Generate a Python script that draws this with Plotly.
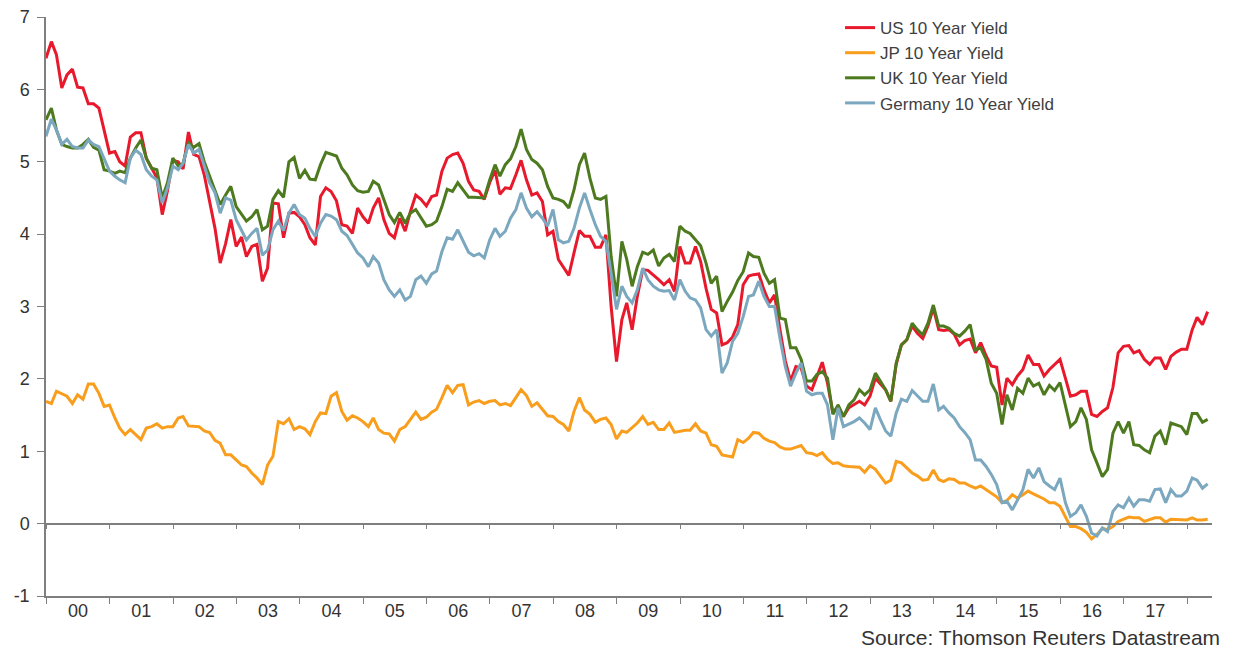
import pandas as pd
import plotly.graph_objects as go

# Month-end observations, Dec 1999 .. Apr 2018
dates = pd.date_range("1999-12-31", "2018-04-30", freq="ME")

us_10y = [6.43,
    6.66, 6.48, 6.02, 6.20, 6.28, 6.03, 6.02, 5.80, 5.80, 5.74, 5.45, 5.12,
    5.14, 5.00, 4.94, 5.34, 5.40, 5.40, 5.05, 4.92, 4.78, 4.27, 4.60, 5.02,
    5.00, 4.90, 5.41, 5.10, 5.07, 4.82, 4.45, 4.08, 3.60, 3.87, 4.20, 3.83,
    3.96, 3.69, 3.83, 3.86, 3.35, 3.53, 4.43, 4.42, 3.95, 4.29, 4.30, 4.24,
    4.13, 3.95, 3.85, 4.52, 4.64, 4.59, 4.46, 4.13, 4.11, 4.01, 4.36, 4.24,
    4.15, 4.36, 4.50, 4.20, 4.01, 3.95, 4.22, 4.04, 4.31, 4.54, 4.48, 4.39,
    4.52, 4.54, 4.87, 5.05, 5.10, 5.12, 4.98, 4.73, 4.61, 4.59, 4.48, 4.71,
    4.88, 4.55, 4.64, 4.63, 4.82, 5.02, 4.75, 4.54, 4.57, 4.45, 3.99, 4.04,
    3.65, 3.55, 3.43, 3.74, 4.05, 3.97, 3.97, 3.82, 3.82, 3.99, 3.00, 2.24,
    2.82, 3.05, 2.68, 3.14, 3.51, 3.50, 3.44, 3.37, 3.30, 3.37, 3.21, 3.83,
    3.60, 3.60, 3.83, 3.62, 3.25, 2.96, 2.91, 2.47, 2.50, 2.58, 2.75, 3.30,
    3.42, 3.44, 3.45, 3.23, 3.05, 3.16, 2.68, 2.25, 1.97, 2.17, 2.15, 1.90,
    1.85, 2.03, 2.23, 1.94, 1.53, 1.62, 1.48, 1.60, 1.64, 1.69, 1.64, 1.76,
    2.01, 1.94, 1.85, 1.69, 2.20, 2.47, 2.54, 2.73, 2.63, 2.56, 2.73, 2.98,
    2.68, 2.67, 2.68, 2.62, 2.47, 2.53, 2.55, 2.36, 2.50, 2.32, 2.18, 2.16,
    1.64, 2.01, 1.92, 2.04, 2.13, 2.33, 2.20, 2.20, 2.04, 2.13, 2.20, 2.27,
    2.01, 1.76, 1.78, 1.83, 1.83, 1.51, 1.48, 1.55, 1.60, 1.88, 2.36, 2.45,
    2.46, 2.36, 2.39, 2.27, 2.20, 2.29, 2.29, 2.13, 2.31, 2.37, 2.41, 2.41,
    2.68, 2.85, 2.75, 2.93]

jp_10y = [1.69,
    1.66, 1.83, 1.80, 1.76, 1.66, 1.78, 1.72, 1.93, 1.93, 1.80, 1.62, 1.64,
    1.46, 1.32, 1.23, 1.30, 1.23, 1.16, 1.32, 1.34, 1.38, 1.32, 1.34, 1.34,
    1.46, 1.48, 1.35, 1.35, 1.34, 1.28, 1.26, 1.15, 1.11, 0.95, 0.95, 0.88,
    0.81, 0.79, 0.70, 0.63, 0.54, 0.81, 0.93, 1.41, 1.38, 1.45, 1.30, 1.34,
    1.31, 1.23, 1.41, 1.53, 1.52, 1.76, 1.81, 1.55, 1.43, 1.49, 1.46, 1.41,
    1.34, 1.46, 1.30, 1.25, 1.24, 1.14, 1.30, 1.34, 1.44, 1.54, 1.44, 1.47,
    1.54, 1.58, 1.74, 1.91, 1.81, 1.91, 1.92, 1.64, 1.68, 1.70, 1.66, 1.69,
    1.70, 1.64, 1.66, 1.63, 1.74, 1.85, 1.77, 1.62, 1.67, 1.58, 1.49, 1.48,
    1.41, 1.37, 1.28, 1.55, 1.74, 1.57, 1.51, 1.40, 1.44, 1.46, 1.37, 1.17,
    1.28, 1.26, 1.32, 1.39, 1.48, 1.37, 1.40, 1.30, 1.30, 1.39, 1.26, 1.28,
    1.29, 1.29, 1.38, 1.28, 1.25, 1.09, 1.07, 0.95, 0.93, 0.92, 1.16, 1.12,
    1.18, 1.26, 1.25, 1.18, 1.14, 1.12, 1.06, 1.03, 1.03, 1.05, 1.08, 0.98,
    0.97, 0.94, 0.98, 0.89, 0.83, 0.84, 0.80, 0.79, 0.79, 0.78, 0.71, 0.80,
    0.75, 0.66, 0.56, 0.60, 0.86, 0.84, 0.77, 0.70, 0.66, 0.60, 0.61, 0.74,
    0.61, 0.58, 0.62, 0.61, 0.56, 0.56, 0.52, 0.49, 0.52, 0.47, 0.42, 0.37,
    0.29, 0.32, 0.40, 0.35, 0.40, 0.45, 0.41, 0.38, 0.34, 0.29, 0.29, 0.24,
    0.10, -0.04, -0.04, -0.07, -0.12, -0.21, -0.15, -0.07, -0.08, -0.04, 0.03, 0.06,
    0.09, 0.08, 0.08, 0.03, 0.06, 0.08, 0.08, 0.02, 0.06, 0.06, 0.05, 0.05,
    0.08, 0.05, 0.05, 0.06]

uk_10y = [5.58,
    5.74, 5.44, 5.24, 5.21, 5.19, 5.19, 5.24, 5.31, 5.20, 5.16, 4.89, 4.87,
    4.84, 4.87, 4.85, 5.05, 5.19, 5.30, 5.05, 4.91, 4.89, 4.50, 4.71, 5.05,
    4.94, 4.98, 5.26, 5.20, 5.25, 5.00, 4.80, 4.61, 4.41, 4.54, 4.66, 4.38,
    4.27, 4.18, 4.24, 4.34, 4.06, 4.11, 4.48, 4.60, 4.51, 5.00, 5.06, 4.77,
    4.88, 4.76, 4.75, 4.96, 5.13, 5.10, 5.08, 4.91, 4.82, 4.68, 4.60, 4.58,
    4.59, 4.73, 4.68, 4.48, 4.27, 4.16, 4.30, 4.15, 4.29, 4.34, 4.22, 4.11,
    4.13, 4.18, 4.38, 4.62, 4.59, 4.71, 4.61, 4.51, 4.51, 4.51, 4.50, 4.75,
    4.96, 4.80, 4.96, 5.04, 5.21, 5.45, 5.17, 5.03, 4.98, 4.89, 4.66, 4.50,
    4.48, 4.45, 4.36, 4.61, 4.96, 5.12, 4.77, 4.50, 4.48, 4.52, 3.69, 3.14,
    3.90, 3.65, 3.28, 3.55, 3.75, 3.72, 3.78, 3.56, 3.67, 3.72, 3.62, 4.11,
    4.04, 4.01, 3.93, 3.84, 3.60, 3.32, 3.42, 2.93, 3.07, 3.20, 3.36, 3.48,
    3.74, 3.69, 3.68, 3.46, 3.32, 3.37, 2.84, 2.82, 2.43, 2.43, 2.27, 1.97,
    1.97, 2.06, 2.10, 2.01, 1.51, 1.64, 1.48, 1.64, 1.71, 1.85, 1.78, 1.85,
    2.08, 1.97, 1.85, 1.69, 2.22, 2.47, 2.54, 2.77, 2.68, 2.61, 2.77, 3.02,
    2.73, 2.73, 2.70, 2.63, 2.59, 2.66, 2.75, 2.40, 2.43, 2.27, 1.94, 1.80,
    1.37, 1.78, 1.57, 1.87, 1.80, 2.01, 1.90, 1.94, 1.78, 1.91, 1.84, 1.95,
    1.62, 1.34, 1.41, 1.60, 1.44, 1.02, 0.84, 0.65, 0.75, 1.25, 1.41, 1.25,
    1.41, 1.09, 1.08, 1.02, 0.98, 1.21, 1.28, 1.09, 1.39, 1.37, 1.34, 1.23,
    1.52, 1.52, 1.40, 1.44]

de_10y = [5.35,
    5.59, 5.44, 5.24, 5.31, 5.21, 5.19, 5.19, 5.30, 5.24, 5.21, 5.05, 4.87,
    4.80, 4.75, 4.71, 5.05, 5.16, 5.10, 4.89, 4.80, 4.75, 4.43, 4.64, 4.94,
    4.89, 4.98, 5.24, 5.12, 5.17, 4.94, 4.71, 4.57, 4.29, 4.50, 4.47, 4.20,
    4.06, 3.92, 4.01, 4.08, 3.71, 3.78, 4.06, 4.18, 4.05, 4.29, 4.41, 4.27,
    4.22, 4.08, 3.97, 4.15, 4.27, 4.25, 4.20, 4.04, 3.98, 3.85, 3.74, 3.67,
    3.55, 3.69, 3.60, 3.37, 3.23, 3.14, 3.23, 3.09, 3.14, 3.37, 3.42, 3.32,
    3.45, 3.49, 3.76, 3.95, 3.93, 4.06, 3.90, 3.75, 3.70, 3.73, 3.67, 3.92,
    4.08, 3.97, 4.04, 4.22, 4.34, 4.57, 4.36, 4.24, 4.31, 4.22, 4.11, 4.34,
    3.92, 3.88, 3.90, 4.08, 4.36, 4.57, 4.34, 4.13, 3.97, 3.90, 3.46, 2.96,
    3.28, 3.14, 3.05, 3.23, 3.53, 3.37, 3.28, 3.23, 3.21, 3.22, 3.09, 3.37,
    3.21, 3.12, 3.09, 2.98, 2.68, 2.59, 2.68, 2.08, 2.22, 2.52, 2.63, 2.86,
    3.14, 3.16, 3.35, 3.14, 3.00, 3.00, 2.56, 2.17, 1.90, 2.08, 2.22, 1.83,
    1.78, 1.80, 1.80, 1.64, 1.16, 1.60, 1.34, 1.37, 1.41, 1.46, 1.39, 1.30,
    1.60, 1.44, 1.28, 1.21, 1.53, 1.72, 1.69, 1.84, 1.76, 1.69, 1.69, 1.93,
    1.57, 1.62, 1.53, 1.46, 1.34, 1.26, 1.16, 0.88, 0.88, 0.79, 0.68, 0.54,
    0.29, 0.31, 0.19, 0.33, 0.47, 0.75, 0.63, 0.77, 0.58, 0.52, 0.47, 0.63,
    0.29, 0.10, 0.15, 0.26, 0.10, -0.13, -0.17, -0.06, -0.11, 0.17, 0.26, 0.22,
    0.35, 0.24, 0.33, 0.33, 0.31, 0.47, 0.48, 0.29, 0.47, 0.38, 0.38, 0.45,
    0.63, 0.60, 0.49, 0.55]

series_names = ["US 10 Year Yield", "JP 10 Year Yield", "UK 10 Year Yield", "Germany 10 Year Yield"]
series_values = [us_10y, jp_10y, uk_10y, de_10y]
series_colors = ["#E8192C", "#F99D1C", "#4E7A1F", "#7BA7BF"]

y_ticks = [-1, 0, 1, 2, 3, 4, 5, 6, 7]
y_tick_labels = ["-1", "0", "1", "2", "3", "4", "5", "6", "7"]
source_text = "Source: Thomson Reuters Datastream"

FONT = "Liberation Sans, Arial, sans-serif"
AXIS_GREY = "#7f7f7f"
TEXT = "#333333"

fig = go.Figure()
for name, vals, col in zip(series_names, series_values, series_colors):
    fig.add_trace(go.Scatter(x=dates, y=vals, name=name, mode="lines",
                             line=dict(color=col, width=3)))

# helper trace so the zero-level axis (with year ticks) is drawn
fig.add_trace(go.Scatter(x=[dates[0]], y=[None], xaxis="x2", showlegend=False,
                         hoverinfo="skip", mode="lines"))

x_range = ["1999-12-31", "2018-05-25"]

# page body keeps its default 8px margin, so the figure is sized to fit the window
fig.update_layout(
    width=1234, height=642,
    margin=dict(l=38, r=30, t=9, b=54, autoexpand=False),
    paper_bgcolor="white", plot_bgcolor="white",
    font=dict(family=FONT, size=18, color=TEXT),
    showlegend=True,
    legend=dict(x=0.681, y=1.012, xref="paper", yref="paper",
                xanchor="left", yanchor="top",
                font=dict(family=FONT, size=17, color="#404040"),
                bgcolor="rgba(0,0,0,0)", itemwidth=30, tracegroupgap=0),
    xaxis=dict(type="date", range=x_range, showgrid=False, zeroline=False,
               showline=True, linecolor=AXIS_GREY, linewidth=1.5,
               ticks="outside", ticklen=6, tickcolor=AXIS_GREY, tickwidth=1.2,
               tick0="2000-01-01", dtick="M12", tickformat="%y",
               ticklabelmode="period", ticklabelstandoff=-8,
               tickfont=dict(size=18, color=TEXT)),
    xaxis2=dict(type="date", range=x_range, overlaying="x", anchor="free",
                position=(0 - y_ticks[0]) / (y_ticks[-1] - y_ticks[0]),
                side="bottom", showgrid=False, zeroline=False,
                showline=True, linecolor=AXIS_GREY, linewidth=1.5,
                ticks="outside", ticklen=5, tickcolor=AXIS_GREY, tickwidth=1.2,
                tick0="2000-01-01", dtick="M12", showticklabels=False),
    yaxis=dict(range=[y_ticks[0], y_ticks[-1]], tickvals=y_ticks,
               ticktext=y_tick_labels, ticklabeloverflow="allow",
               showgrid=False, zeroline=False, showline=True,
               linecolor=AXIS_GREY, linewidth=1.5, ticks="outside", ticklen=7,
               tickcolor=AXIS_GREY, tickwidth=1.2, ticklabelstandoff=4,
               tickfont=dict(size=18, color=TEXT)),
    annotations=[dict(text=source_text, xref="paper", yref="paper",
                      x=1.0086, y=-0.0725, xanchor="right", yanchor="middle",
                      showarrow=False, font=dict(family=FONT, size=21, color=TEXT))],
)

fig.write_html("out.html")
